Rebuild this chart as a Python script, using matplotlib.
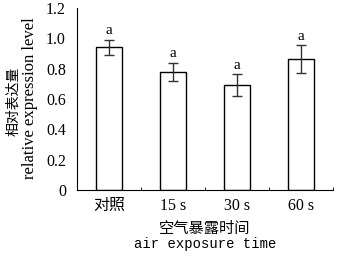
import matplotlib.pyplot as plt
import numpy as np

groups = ["对照", "15 s", "30 s", "60 s"]
means = [0.942, 0.778, 0.690, 0.864]
errs = [0.049, 0.061, 0.072, 0.090]
letters = ["a", "a", "a", "a"]

serif = ["Liberation Serif", "Noto Sans CJK SC"]
cjk = ["Noto Sans CJK SC", "DejaVu Sans"]

fig = plt.figure(figsize=(3.52, 2.57), dpi=100)
ax = fig.add_axes([0.219, 0.261, 0.727, 0.708])

x = np.arange(len(groups))
ax.bar(x, means, width=0.4, color="white", edgecolor="black", linewidth=1.0)
ax.errorbar(x, means, yerr=errs, fmt="none", ecolor="#333333", elinewidth=1.0,
            capsize=3.5, capthick=1.0)
for xi, m, e, t in zip(x, means, errs, letters):
    ax.text(xi, m + e + 0.015, t, ha="center", va="bottom", fontsize=11,
            family=serif)

ax.set_xlim(-0.5, 3.5)
ax.set_ylim(0, 1.2)
ax.set_yticks(np.arange(0, 1.21, 0.2))
ax.set_yticklabels(["0", "0.2", "0.4", "0.6", "0.8", "1.0", "1.2"])
ax.set_xticks(x)
ax.set_xticklabels(groups)
ax.set_xticks([0.5, 1.5, 2.5, 3.5], minor=True)
ax.tick_params(axis="x", which="major", length=0, pad=6)
ax.tick_params(axis="x", which="minor", direction="in", length=2)
ax.tick_params(axis="y", length=0, pad=8)
for lab in ax.get_xticklabels() + ax.get_yticklabels():
    lab.set_family(serif)
    lab.set_fontsize(11.5)

ax.spines["top"].set_visible(False)
ax.spines["right"].set_visible(False)

fig.text(13 / 352, 1 - 101 / 257, "相对表达量", rotation=90, ha="center",
         va="center", fontsize=10, family=cjk)
fig.text(30 / 352, 1 - 98 / 257, "relative expression level", rotation=90,
         ha="center", va="center", fontsize=12, family=serif)
fig.text(205 / 352, 1 - 228 / 257, "空气暴露时间", ha="center", va="center",
         fontsize=11, family=cjk)
fig.text(205 / 352, 1 - 244 / 257, "air exposure time", ha="center",
         va="center", fontsize=10, family=["Liberation Mono"])

fig.savefig("out.png", dpi=100)
